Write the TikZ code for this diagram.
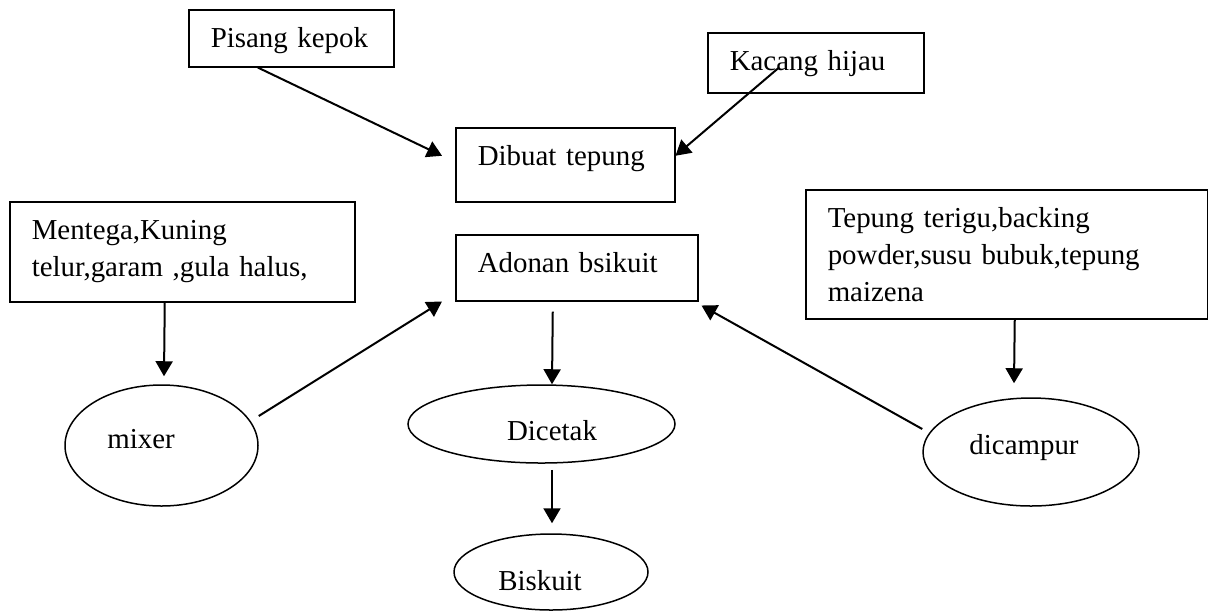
\documentclass[tikz,border=0pt]{standalone}
\usepackage{fontspec}
\setmainfont{Liberation Serif}
\usepackage{tikz}
\usetikzlibrary{arrows.meta,shapes.geometric}

\begin{document}
\begin{tikzpicture}[x=0.5pt,y=-0.5pt,
  font=\fontsize{14.45pt}{18.5pt}\selectfont,
  kotak/.style={draw,line width=0.75pt,anchor=north west,align=left,inner xsep=11pt,inner ysep=0pt,text height=19pt},
  elips/.style={draw,ellipse,line width=0.75pt,inner sep=0pt},
  panah/.style={-{Triangle[length=7.5pt,width=8.5pt]},line width=1pt}
]
\useasboundingbox (0,0) rectangle (1208,612);
\node[kotak,text width=80.5pt,text depth=9.5pt] (pisang) at (188,9) {Pisang kepok};
\node[kotak,text width=86pt,text depth=11pt] (kacang) at (707,32) {Kacang hijau};
\node[kotak,text width=87.5pt,text depth=18pt] (tepung) at (455,127) {Dibuat tepung};
\node[kotak,text width=99pt,text depth=14pt] (adonan) at (455,234) {Adonan bsikuit};
\node[kotak,text width=150.5pt,text depth=31pt] (mentega) at (9,201) {Mentega,Kuning\\telur,garam ,gula halus,};
\node[kotak,text width=179pt,text depth=45.5pt] (bahan) at (805,189) {Tepung terigu,backing\\powder,susu bubuk,tepung\\maizena};
\node[elips,minimum width=96.5pt,minimum height=60.5pt,label={[anchor=base,xshift=-10.25pt,yshift=3.25pt]center:mixer}] (mixer) at (161.5,445.5) {};
\node[elips,minimum width=133.5pt,minimum height=39pt,label={[anchor=base,xshift=5.25pt,yshift=-3.5pt]center:Dicetak}] (cetak) at (541.5,424) {};
\node[elips,minimum width=97pt,minimum height=38pt,label={[anchor=base,xshift=-5.5pt,yshift=-4.5pt]center:Biskuit}] (biskuit) at (551,572) {};
\node[elips,minimum width=108pt,minimum height=54pt,label={[anchor=base,xshift=-3.5pt,yshift=2pt]center:dicampur}] (campur) at (1031,452) {};
\draw[panah] ([xshift=-16.75pt]pisang.south) -- ([xshift=-6.5pt,yshift=4.5pt]tepung.west);
\draw[panah] ([xshift=-18.5pt,yshift=-2.5pt]kacang.center) -- ([yshift=4.5pt]tepung.east);
\draw[panah] ([xshift=-8.75pt]mentega.south) -- ([xshift=1.25pt,yshift=4pt]mixer.north);
\draw[panah] ([yshift=14.75pt]mixer.east) -- ([xshift=-6.5pt]adonan.south west);
\draw[panah] ([xshift=-12pt,yshift=-5pt]adonan.south) -- ([xshift=5.25pt]cetak.north);
\draw[panah] ([xshift=5.25pt,yshift=-3pt]cetak.south) -- ([xshift=0.5pt,yshift=5pt]biskuit.north);
\draw[panah] ([xshift=4pt]bahan.south) -- ([xshift=-8.5pt,yshift=7pt]campur.north);
\draw[panah] ([yshift=11.5pt]campur.west) -- ([xshift=1.5pt,yshift=-2pt]adonan.south east);
\end{tikzpicture}
\end{document}
